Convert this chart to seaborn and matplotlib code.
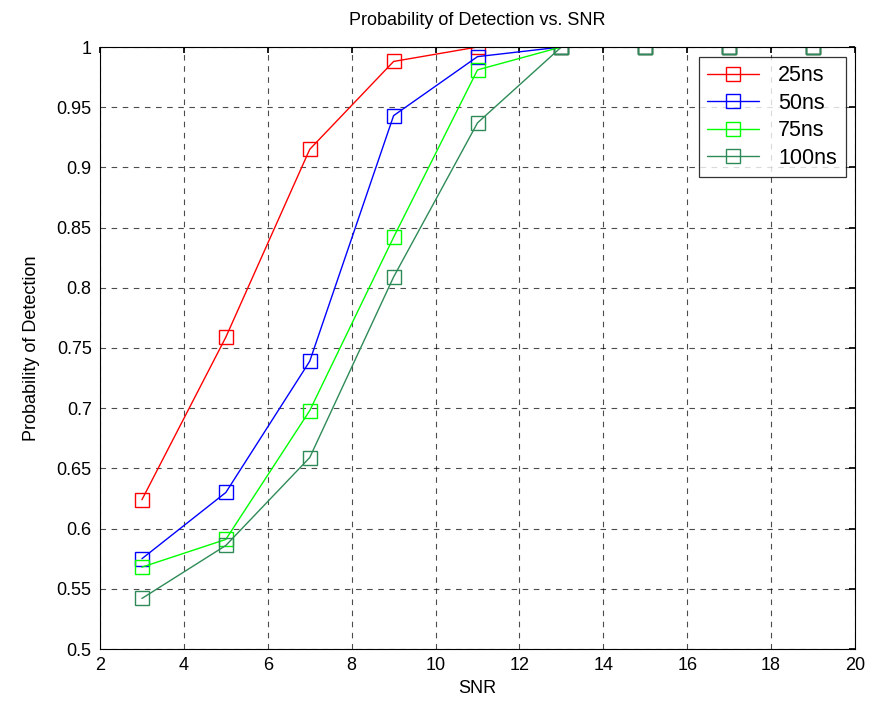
import matplotlib
matplotlib.use("Agg")
import matplotlib.pyplot as plt
import seaborn as sns

snr = [3, 5, 7, 9, 11, 13, 15, 17, 19]
pd_25 = [0.624, 0.759, 0.915, 0.988, 1.0, 1.0, 1.0, 1.0, 1.0]
pd_50 = [0.575, 0.630, 0.739, 0.943, 0.992, 1.0, 1.0, 1.0, 1.0]
pd_75 = [0.568, 0.591, 0.698, 0.842, 0.981, 1.0, 1.0, 1.0, 1.0]
pd_100 = [0.542, 0.586, 0.659, 0.809, 0.937, 1.0, 1.0, 1.0, 1.0]
labels = ["25ns", "50ns", "75ns", "100ns"]
colors = ["#FF0000", "#0000FF", "#00FF00", "#2E8B57"]

sns.set_theme(style="white")
plt.rcParams['font.family'] = ['Liberation Sans', 'DejaVu Sans']
plt.rcParams['text.color'] = 'black'
plt.rcParams['axes.labelcolor'] = 'black'
plt.rcParams['xtick.color'] = 'black'
plt.rcParams['ytick.color'] = 'black'

fig = plt.figure(figsize=(8.72, 7.13), dpi=100)
ax = fig.add_axes([100/872, 1-649/713, 755/872, 602/713])

for lab, vals, c in zip(labels, [pd_25, pd_50, pd_75, pd_100], colors):
    sns.lineplot(x=snr, y=vals, color=c, label=lab, marker="s", markersize=10.5,
                 mfc="none", mec=c, mew=1.0, linewidth=1.0, ax=ax)

ax.set_xlim(2, 20)
ax.set_ylim(0.5, 1.0)
ax.set_xticks(range(2, 21, 2))
ax.set_yticks([0.5 + 0.05*i for i in range(11)])
ax.set_yticklabels(["0.5", "0.55", "0.6", "0.65", "0.7", "0.75", "0.8", "0.85", "0.9", "0.95", "1"])
ax.grid(True, color="black", linestyle=(0, (5, 5)), linewidth=0.8, alpha=0.7)
ax.tick_params(direction="in", length=4, labelsize=13, color="black", top=True, right=True, pad=6)
for sp in ax.spines.values():
    sp.set_color("black")
    sp.set_linewidth(0.8)
ax.set_xlabel("SNR", fontsize=13, labelpad=4)
ax.set_ylabel("Probability of Detection", fontsize=13, labelpad=12)
ax.set_title("Probability of Detection vs. SNR", fontsize=13, pad=16)

leg = ax.legend(loc="upper right", bbox_to_anchor=(0.9875, 0.984), fontsize=15.5,
                frameon=True, fancybox=False, edgecolor="black", handlelength=2.4,
                borderaxespad=0.0, labelspacing=0.3, borderpad=0.4, handletextpad=0.9)
leg.get_frame().set_linewidth(0.9)

fig.savefig("out.png", dpi=100)
